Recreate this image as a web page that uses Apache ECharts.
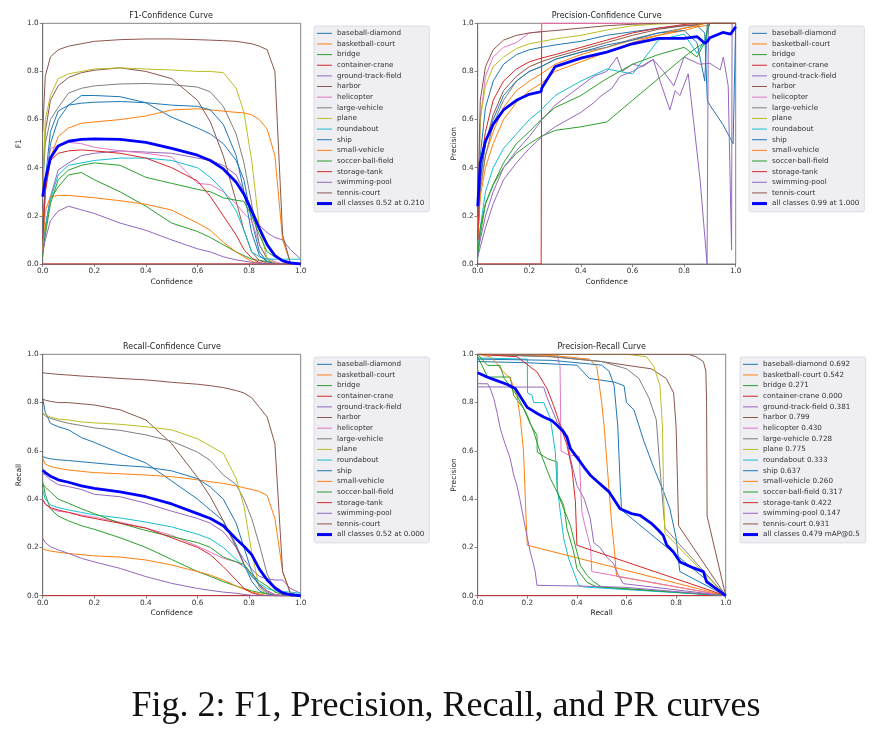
<!DOCTYPE html>
<html><head><meta charset="utf-8">
<script src="https://cdn.jsdelivr.net/npm/echarts@6/dist/echarts.min.js"></script>
<style>html,body{margin:0;padding:0;background:#fff;}#c{width:892px;height:740px;}</style>
</head><body><div id="c"></div>
<script>
// ---------------- data ----------------
const CLASSES = ['baseball-diamond','basketball-court','bridge','container-crane','ground-track-field','harbor','helicopter','large-vehicle','plane','roundabout','ship','small-vehicle','soccer-ball-field','storage-tank','swimming-pool','tennis-court'];
const COLORS = ['#1f77b4','#ff7f0e','#2ca02c','#d62728','#9467bd','#8c564b','#e377c2','#7f7f7f','#bcbd22','#17becf','#1f77b4','#ff7f0e','#2ca02c','#d62728','#9467bd','#8c564b'];
const AP = ['0.692','0.542','0.271','0.000','0.381','0.799','0.430','0.728','0.775','0.333','0.637','0.260','0.317','0.422','0.147','0.931'];
const TICKS = [0, 0.2, 0.4, 0.6, 0.8, 1.0];
const ALL_F1_LABEL = 'all classes 0.52 at 0.210';
const ALL_P_LABEL = 'all classes 0.99 at 1.000';
const ALL_R_LABEL = 'all classes 0.52 at 0.000';
const ALL_PR_LABEL = 'all classes 0.479 mAP@0.5';

// confidence grid for F1 and Recall curves
const CONF = [0, .01, .03, .06, .1, .15, .2, .3, .4, .5, .6, .65, .7, .75, .78, .81, .84, .87, .9, .93, .96, 1.0];

const F1_ROWS = [
 [0.1,0.3,0.5,0.6,0.66,0.7,0.7,0.695,0.67,0.61,0.565,0.54,0.5,0.43,0.35,0.18,0.05,0.01,0.003,0,0,0],
 [0.2,0.3,0.44,0.53,0.565,0.585,0.59,0.6,0.615,0.64,0.645,0.64,0.635,0.63,0.628,0.62,0.6,0.56,0.45,0.1,0.005,0],
 [0.05,0.15,0.27,0.32,0.37,0.38,0.35,0.3,0.24,0.17,0.135,0.11,0.08,0.05,0.035,0.02,0.015,0.01,0.003,0,0,0],
 [0,0,0,0,0,0,0,0,0,0,0,0,0,0,0,0,0,0,0,0,0,0],
 [0.05,0.15,0.28,0.39,0.42,0.45,0.46,0.47,0.465,0.46,0.44,0.43,0.41,0.37,0.3,0.23,0.16,0.13,0.11,0.1,0.06,0.02],
 [0.35,0.55,0.68,0.74,0.775,0.795,0.805,0.815,0.8,0.77,0.68,0.59,0.45,0.26,0.14,0.05,0.015,0.003,0,0,0,0],
 [0.1,0.3,0.48,0.49,0.505,0.5,0.485,0.47,0.46,0.445,0.335,0.33,0.3,0.25,0.21,0.18,0.08,0.025,0.01,0,0,0],
 [0.3,0.5,0.6,0.65,0.71,0.73,0.74,0.748,0.75,0.745,0.735,0.715,0.655,0.54,0.42,0.25,0.08,0.02,0.003,0,0,0],
 [0.3,0.6,0.7,0.77,0.79,0.8,0.81,0.815,0.81,0.806,0.8,0.8,0.795,0.73,0.63,0.43,0.15,0.02,0,0,0,0],
 [0.05,0.15,0.27,0.37,0.41,0.42,0.43,0.44,0.44,0.43,0.4,0.36,0.305,0.22,0.14,0.05,0.03,0.02,0.02,0.02,0.02,0.02],
 [0.1,0.35,0.55,0.635,0.66,0.668,0.672,0.675,0.67,0.66,0.655,0.64,0.58,0.45,0.3,0.13,0.035,0.01,0,0,0,0],
 [0.05,0.22,0.28,0.285,0.285,0.28,0.275,0.263,0.248,0.224,0.17,0.14,0.09,0.05,0.03,0.01,0.005,0,0,0,0,0],
 [0.03,0.12,0.25,0.35,0.39,0.41,0.42,0.41,0.36,0.335,0.31,0.3,0.275,0.265,0.26,0.2,0.12,0.05,0.03,0.017,0.005,0],
 [0.1,0.3,0.43,0.46,0.47,0.474,0.47,0.46,0.44,0.4,0.345,0.28,0.2,0.12,0.06,0.025,0.005,0,0,0,0,0],
 [0.05,0.1,0.18,0.22,0.24,0.225,0.21,0.17,0.14,0.1,0.063,0.05,0.03,0.017,0.012,0.007,0.003,0,0,0,0,0],
 [0.55,0.78,0.86,0.89,0.905,0.915,0.925,0.932,0.935,0.935,0.932,0.93,0.928,0.925,0.92,0.915,0.905,0.89,0.8,0.12,0.005,0]
];
const F1_ALL = [0.28,0.35,0.44,0.49,0.51,0.518,0.52,0.518,0.505,0.48,0.452,0.43,0.395,0.34,0.29,0.22,0.147,0.08,0.035,0.013,0.005,0];

const R_ROWS = [
 [0.818,0.76,0.714,0.7,0.687,0.655,0.635,0.59,0.55,0.475,0.4,0.355,0.31,0.21,0.13,0.06,0.02,0.005,0,0,0,0],
 [0.57,0.545,0.535,0.528,0.521,0.515,0.51,0.505,0.5,0.493,0.48,0.472,0.465,0.455,0.447,0.44,0.432,0.415,0.32,0.1,0.01,0],
 [0.47,0.42,0.36,0.33,0.31,0.29,0.275,0.24,0.2,0.15,0.1,0.08,0.058,0.04,0.03,0.02,0.013,0.008,0.003,0,0,0],
 [0,0,0,0,0,0,0,0,0,0,0,0,0,0,0,0,0,0,0,0,0,0],
 [0.507,0.5,0.48,0.46,0.452,0.44,0.42,0.41,0.383,0.35,0.32,0.3,0.265,0.2,0.15,0.11,0.08,0.07,0.065,0.065,0.03,0.01],
 [0.814,0.81,0.805,0.8,0.8,0.795,0.79,0.77,0.728,0.63,0.49,0.41,0.31,0.2,0.13,0.08,0.045,0.02,0.005,0,0,0],
 [0.4,0.38,0.36,0.35,0.345,0.335,0.325,0.305,0.28,0.25,0.205,0.18,0.155,0.14,0.12,0.09,0.04,0.015,0.005,0,0,0],
 [0.755,0.745,0.735,0.725,0.714,0.705,0.695,0.685,0.666,0.64,0.595,0.56,0.5,0.46,0.4,0.32,0.21,0.09,0.025,0.005,0,0],
 [0.758,0.75,0.74,0.732,0.728,0.72,0.716,0.71,0.7,0.687,0.65,0.62,0.59,0.485,0.37,0.18,0.03,0.005,0,0,0,0],
 [0.438,0.4,0.376,0.365,0.355,0.345,0.335,0.322,0.305,0.285,0.255,0.235,0.2,0.15,0.12,0.08,0.05,0.03,0.02,0.017,0.015,0.01],
 [0.576,0.572,0.567,0.563,0.56,0.555,0.55,0.54,0.533,0.517,0.485,0.45,0.4,0.3,0.2,0.1,0.04,0.01,0,0,0,0],
 [0.196,0.19,0.185,0.18,0.175,0.17,0.165,0.16,0.148,0.127,0.1,0.085,0.065,0.04,0.027,0.015,0.007,0,0,0,0,0],
 [0.465,0.45,0.43,0.4,0.383,0.36,0.34,0.3,0.27,0.245,0.22,0.2,0.16,0.14,0.13,0.09,0.06,0.04,0.015,0.005,0,0],
 [0.396,0.38,0.365,0.355,0.345,0.33,0.32,0.3,0.28,0.24,0.2,0.17,0.12,0.065,0.03,0.012,0.003,0,0,0,0,0],
 [0.238,0.22,0.203,0.19,0.175,0.155,0.14,0.113,0.079,0.051,0.03,0.022,0.015,0.01,0.005,0.002,0,0,0,0,0,0],
 [0.924,0.922,0.92,0.917,0.914,0.91,0.907,0.9,0.894,0.884,0.876,0.87,0.862,0.85,0.84,0.82,0.78,0.74,0.63,0.1,0.01,0]
];
const R_ALL = [0.52,0.51,0.495,0.48,0.47,0.455,0.445,0.43,0.41,0.38,0.34,0.32,0.29,0.235,0.205,0.17,0.11,0.065,0.033,0.012,0.004,0];

// confidence grid for Precision curves
const PCONF = [0,.01,.03,.06,.1,.15,.2,.246,.248,.3,.4,.5,.6,.7,.8,.85,.88,.89,.9,.95,.98,.99,1.0];
const P_ROWS = [
 [0.1,0.45,0.65,0.76,0.83,0.87,0.89,0.9,0.9,0.91,0.925,0.95,0.965,0.98,0.99,0.99,0.96,0.68,0.66,0.58,0.52,0.5,1.0],
 [0.1,0.3,0.45,0.55,0.65,0.72,0.76,0.79,0.79,0.83,0.87,0.9,0.93,0.95,0.97,0.985,0.99,0.99,1,1,1,1,1],
 [0.03,0.12,0.25,0.33,0.4,0.46,0.5,0.53,0.53,0.555,0.57,0.59,0.68,0.77,0.86,0.9,0.92,0.97,1,1,1,1,1],
 [0,0,0,0,0,0,0,0,1,1,1,1,1,1,1,1,1,1,1,1,1,1,1],
 null,
 [0.1,0.35,0.5,0.62,0.72,0.78,0.82,0.84,0.84,0.86,0.89,0.92,0.95,0.975,0.99,0.995,1,1,1,1,1,1,1],
 [0.1,0.6,0.78,0.86,0.9,0.92,0.96,0.965,1,1,1,1,1,1,1,1,1,1,1,1,1,1,1],
 [0.08,0.32,0.45,0.58,0.68,0.76,0.8,0.82,0.82,0.85,0.88,0.9,0.935,0.96,0.98,0.99,1,1,1,1,1,1,1],
 [0.1,0.6,0.74,0.82,0.86,0.895,0.915,0.924,0.924,0.935,0.95,0.972,0.99,0.997,1,1,1,1,1,1,1,1,1],
 [0.03,0.15,0.3,0.4,0.48,0.54,0.6,0.64,0.64,0.7,0.76,0.81,0.79,0.93,0.955,0.875,0.93,0.97,1,1,1,1,1],
 [0.1,0.35,0.5,0.6,0.7,0.76,0.8,0.82,0.82,0.85,0.88,0.91,0.93,0.96,0.97,0.92,0.76,1,1,1,1,1,1],
 [0.1,0.28,0.4,0.5,0.6,0.67,0.72,0.75,0.75,0.8,0.84,0.88,0.92,0.95,0.98,0.99,1,1,1,1,1,1,1],
 [0.03,0.15,0.25,0.33,0.42,0.5,0.55,0.6,0.6,0.65,0.7,0.77,0.83,0.87,0.9,0.86,0.92,0.97,1,1,1,1,1],
 [0.1,0.4,0.55,0.68,0.76,0.81,0.84,0.855,0.855,0.87,0.9,0.93,0.96,0.98,0.995,1,1,1,1,1,1,1,1],
 null,
 [0.2,0.68,0.82,0.89,0.93,0.95,0.96,0.965,0.965,0.97,0.98,0.99,0.996,1,1,1,1,1,1,1,1,1,1]
];
const P_GROUND_TRACK_FIELD = [[0,0.05],[0.03,0.2],[0.06,0.3],[0.1,0.4],[0.15,0.47],[0.2,0.53],[0.25,0.6],[0.3,0.66],[0.35,0.7],[0.4,0.74],[0.45,0.78],[0.5,0.8],[0.54,0.86],[0.56,0.8],[0.6,0.83],[0.64,0.82],[0.68,0.85],[0.71,0.75],[0.745,0.64],[0.765,0.72],[0.784,0.7],[0.816,0.79],[0.836,0.6],[0.862,0.35],[0.889,0],[0.893,0],[0.894,1],[1,1]];
const P_SWIMMING_POOL = [[0,0.03],[0.03,0.15],[0.06,0.25],[0.1,0.35],[0.15,0.42],[0.2,0.48],[0.25,0.53],[0.3,0.57],[0.35,0.6],[0.4,0.63],[0.45,0.67],[0.474,0.695],[0.52,0.73],[0.552,0.78],[0.6,0.8],[0.68,0.85],[0.72,0.8],[0.76,0.74],[0.8,0.86],[0.86,0.83],[0.9,0.834],[0.94,0.806],[0.952,0.86],[0.971,0.74],[0.984,0.058],[0.986,1],[1,1]];
const P_ALL = [0.24,0.42,0.51,0.58,0.64,0.68,0.705,0.716,0.73,0.82,0.855,0.88,0.915,0.937,0.937,0.945,0.917,0.925,0.94,0.962,0.955,0.97,0.986];

// Precision-Recall curves: [recall, precision]
const PR_BASEBALL_DIAMOND = [[0,0.97],[0.2,0.965],[0.4,0.955],[0.45,0.9],[0.55,0.885],[0.59,0.87],[0.6,0.8],[0.63,0.77],[0.67,0.64],[0.71,0.53],[0.75,0.43],[0.775,0.36],[0.8,0.24],[0.815,0.1],[1,0]];
const PR_BASKETBALL_COURT = [[0,1],[0.3,0.995],[0.45,0.98],[0.48,0.95],[0.5,0.8],[0.51,0.7],[0.525,0.5],[0.54,0.3],[0.55,0.2],[0.56,0.08],[1,0]];
const PR_BRIDGE = [[0,0.99],[0.04,0.906],[0.131,0.906],[0.145,0.83],[0.185,0.775],[0.212,0.712],[0.239,0.664],[0.24,0.595],[0.28,0.568],[0.32,0.554],[0.321,0.43],[0.347,0.374],[0.36,0.278],[0.387,0.181],[0.4,0.112],[0.44,0.056],[0.48,0.036],[1,0]];
const PR_CONTAINER_CRANE = [[0,0],[1,0]];
const PR_GROUND_TRACK_FIELD = [[0,0.865],[0.266,0.864],[0.28,0.82],[0.3,0.77],[0.32,0.72],[0.345,0.69],[0.36,0.64],[0.374,0.568],[0.4,0.457],[0.43,0.4],[0.454,0.319],[0.468,0.22],[0.493,0.2],[0.52,0.16],[0.547,0.134],[0.565,0.09],[0.587,0.05],[1,0]];
const PR_HARBOR = [[0,1],[0.3,0.99],[0.5,0.97],[0.63,0.95],[0.7,0.94],[0.76,0.9],[0.79,0.84],[0.8,0.7],[0.805,0.5],[0.81,0.29],[1,0]];
const PR_HELICOPTER = [[0,1],[0.32,1],[0.332,0.95],[0.336,0.6],[0.36,0.585],[0.41,0.576],[0.415,0.45],[0.42,0.35],[0.43,0.3],[0.445,0.24],[0.455,0.2],[0.46,0.1],[1,0]];
const PR_LARGE_VEHICLE = [[0,1],[0.3,0.99],[0.5,0.97],[0.6,0.94],[0.65,0.9],[0.69,0.82],[0.72,0.73],[0.74,0.46],[0.755,0.28],[1,0]];
const PR_PLANE = [[0,1],[0.6,1],[0.68,0.99],[0.71,0.95],[0.735,0.87],[0.745,0.7],[0.75,0.4],[0.755,0.26],[1,0]];
const PR_ROUNDABOUT = [[0,0.985],[0.2,0.98],[0.201,0.84],[0.219,0.83],[0.226,0.8],[0.266,0.8],[0.293,0.735],[0.313,0.595],[0.32,0.457],[0.333,0.347],[0.347,0.236],[0.367,0.153],[0.387,0.098],[0.407,0.043],[0.43,0.036],[1,0]];
const PR_SHIP = [[0,0.98],[0.3,0.975],[0.45,0.96],[0.5,0.955],[0.53,0.93],[0.55,0.87],[0.565,0.7],[0.575,0.45],[0.58,0.355],[1,0]];
const PR_SMALL_VEHICLE = [[0,1],[0.05,0.99],[0.08,0.96],[0.091,0.94],[0.131,0.9],[0.158,0.83],[0.172,0.733],[0.185,0.595],[0.19,0.457],[0.196,0.3],[0.2,0.209],[1,0]];
const PR_SOCCER_BALL_FIELD = [[0,1],[0.04,0.954],[0.09,0.954],[0.107,0.9],[0.158,0.83],[0.2,0.747],[0.226,0.678],[0.252,0.595],[0.293,0.485],[0.32,0.43],[0.347,0.36],[0.374,0.29],[0.4,0.181],[0.414,0.126],[0.44,0.085],[0.467,0.058],[0.5,0.036],[1,0]];
const PR_STORAGE_TANK = [[0,1],[0.158,0.99],[0.239,0.927],[0.28,0.857],[0.306,0.788],[0.333,0.706],[0.36,0.623],[0.38,0.526],[0.394,0.389],[0.4,0.209],[1,0]];
const PR_SWIMMING_POOL = [[0,0.878],[0.04,0.878],[0.05,0.86],[0.065,0.816],[0.08,0.75],[0.091,0.692],[0.11,0.63],[0.131,0.568],[0.145,0.5],[0.158,0.457],[0.17,0.4],[0.185,0.319],[0.2,0.24],[0.212,0.181],[0.225,0.13],[0.232,0.098],[0.239,0.043],[0.4,0.04],[0.59,0.035],[1,0]];
const PR_TENNIS_COURT = [[0,1],[0.85,1],[0.88,0.99],[0.91,0.97],[0.92,0.93],[0.923,0.8],[0.925,0.33],[1,0]];
const PR_ALL = [[0,0.924],[0.04,0.905],[0.08,0.89],[0.12,0.875],[0.152,0.857],[0.175,0.82],[0.2,0.78],[0.24,0.755],[0.266,0.74],[0.3,0.725],[0.32,0.706],[0.345,0.68],[0.36,0.657],[0.374,0.609],[0.395,0.58],[0.414,0.554],[0.434,0.525],[0.454,0.499],[0.48,0.475],[0.5,0.457],[0.53,0.43],[0.555,0.39],[0.574,0.36],[0.62,0.34],[0.655,0.333],[0.7,0.3],[0.73,0.27],[0.748,0.25],[0.762,0.21],[0.79,0.18],[0.816,0.14],[0.87,0.115],[0.91,0.1],[0.923,0.057],[0.96,0.03],[1,0]];
const PR_CURVES = [PR_BASEBALL_DIAMOND,PR_BASKETBALL_COURT,PR_BRIDGE,PR_CONTAINER_CRANE,PR_GROUND_TRACK_FIELD,PR_HARBOR,PR_HELICOPTER,PR_LARGE_VEHICLE,PR_PLANE,PR_ROUNDABOUT,PR_SHIP,PR_SMALL_VEHICLE,PR_SOCCER_BALL_FIELD,PR_STORAGE_TANK,PR_SWIMMING_POOL,PR_TENNIS_COURT];

// ---------------- chart ----------------
const FONT = 'DejaVu Sans';
const AXIS_COLOR = '#666';
const ALL_COLOR = '#0000ff';
const THIN = 'path://M0,0L15,0L15,1L0,1Z';
const THICK = 'path://M0,0L15,0L15,3L0,3Z';

const GRIDS = [
  {left:42.7, top:23.3, width:258, height:240.7},
  {left:477.7, top:23.3, width:258, height:240.7},
  {left:42.7, top:354.3, width:258, height:241.4},
  {left:477.7, top:354.3, width:248, height:241.4}
];

function xAxis(i, name, gap){
  return {type:'value', gridIndex:i, min:0, max:1, interval:0.2, name, nameLocation:'middle', nameGap:gap,
    nameTextStyle:{fontFamily:FONT, fontSize:7.5, color:'#222'},
    axisLine:{show:true, onZero:false, lineStyle:{color:AXIS_COLOR, width:0.8}},
    axisTick:{show:true, length:3, lineStyle:{color:AXIS_COLOR, width:0.8}},
    axisLabel:{fontFamily:FONT, fontSize:7.3, color:'#333', margin:4, showMinLabel:true, showMaxLabel:true,
      formatter:v=>TICKS.some(t=>Math.abs(t-v)<1e-6)?v.toFixed(1):''},
    splitLine:{show:false}};
}
function yAxis(i, name){
  return {type:'value', gridIndex:i, min:0, max:1, interval:0.2, name, nameLocation:'middle', nameGap:19, nameRotate:90,
    nameTextStyle:{fontFamily:FONT, fontSize:7.5, color:'#222'},
    axisLine:{show:true, onZero:false, lineStyle:{color:AXIS_COLOR, width:0.8}},
    axisTick:{show:true, length:3, lineStyle:{color:AXIS_COLOR, width:0.8}},
    axisLabel:{fontFamily:FONT, fontSize:7.3, color:'#333', margin:4, showMinLabel:true, showMaxLabel:true,
      formatter:v=>v.toFixed(1)},
    splitLine:{show:false}};
}
function line(name, data, color, gi, width){
  return {type:'line', name, xAxisIndex:gi, yAxisIndex:gi, data, symbol:'none', showSymbol:false,
    lineStyle:{color, width}, itemStyle:{color}, animation:false, silent:true, clip:true};
}
function legend(names, left, top, padRight){
  return {orient:'vertical', left, top, itemWidth:15, itemHeight:3, itemGap:0, itemTextGap:5.5,
    padding:[2,padRight,3,3], backgroundColor:'#eeeef3', borderColor:'#d6d6dd', borderWidth:0.8, borderRadius:2,
    selectedMode:false, itemStyle:{borderWidth:0}, lineStyle:{width:0},
    textStyle:{fontFamily:FONT, fontSize:7.2, color:'#333', lineHeight:10.64},
    data:names.map((n,k)=>({name:n, icon:k===names.length-1?THICK:THIN}))};
}

const series = [];
// F1
CLASSES.forEach((c,k)=>series.push(line(c, CONF.map((x,j)=>[x,F1_ROWS[k][j]]), COLORS[k], 0, 1)));
series.push(line(ALL_F1_LABEL, CONF.map((x,j)=>[x,F1_ALL[j]]), ALL_COLOR, 0, 2.8));
// Precision
const P_OVERRIDES = {4:P_GROUND_TRACK_FIELD, 14:P_SWIMMING_POOL};
CLASSES.forEach((c,k)=>{
  const d = P_ROWS[k] ? PCONF.map((x,j)=>[x,P_ROWS[k][j]]) : P_OVERRIDES[k];
  series.push(line(c, d, COLORS[k], 1, 1));
});
series.push(line(ALL_P_LABEL, PCONF.map((x,j)=>[x,P_ALL[j]]), ALL_COLOR, 1, 2.8));
// Recall
CLASSES.forEach((c,k)=>series.push(line(c, CONF.map((x,j)=>[x,R_ROWS[k][j]]), COLORS[k], 2, 1)));
series.push(line(ALL_R_LABEL, CONF.map((x,j)=>[x,R_ALL[j]]), ALL_COLOR, 2, 2.8));
// PR
const PR_NAMES = CLASSES.map((c,k)=>c+' '+AP[k]);
CLASSES.forEach((c,k)=>series.push(line(PR_NAMES[k], PR_CURVES[k], COLORS[k], 3, 1)));
series.push(line(ALL_PR_LABEL, PR_ALL, ALL_COLOR, 3, 2.8));

function title(text, x, y){
  return {type:'text', x, y, style:{text, fontFamily:FONT, fontSize:8, fill:'#222', align:'center', verticalAlign:'middle'}};
}

const option = {
  backgroundColor:'#fff',
  animation:false,
  grid: GRIDS.map(g=>Object.assign({show:true, borderColor:AXIS_COLOR, borderWidth:0.8, backgroundColor:'#fff', containLabel:false, outerBoundsMode:'none'}, g)),
  xAxis:[xAxis(0,'Confidence',14), xAxis(1,'Confidence',14), xAxis(2,'Confidence',13.5), xAxis(3,'Recall',13.5)],
  yAxis:[yAxis(0,'F1'), yAxis(1,'Precision'), yAxis(2,'Recall'), yAxis(3,'Precision')],
  legend:[
    legend(CLASSES.concat([ALL_F1_LABEL]), 314, 26, 5),
    legend(CLASSES.concat([ALL_P_LABEL]), 749, 26, 5),
    legend(CLASSES.concat([ALL_R_LABEL]), 314, 357, 5),
    legend(PR_NAMES.concat([ALL_PR_LABEL]), 740, 357, 6)
  ],
  graphic:[
    title('F1-Confidence Curve', 171, 16),
    title('Precision-Confidence Curve', 606.7, 16),
    title('Recall-Confidence Curve', 172, 347.3),
    title('Precision-Recall Curve', 601.7, 347.3),
    {type:'text', x:446, y:707, style:{text:'Fig. 2: F1, Precision, Recall, and PR curves', fontFamily:'Liberation Serif', fontSize:36, fill:'#111', align:'center', verticalAlign:'middle'}}
  ],
  series
};
const chart = echarts.init(document.getElementById('c'), null, {renderer:'canvas'});
chart.setOption(option);
</script>
</body></html>
